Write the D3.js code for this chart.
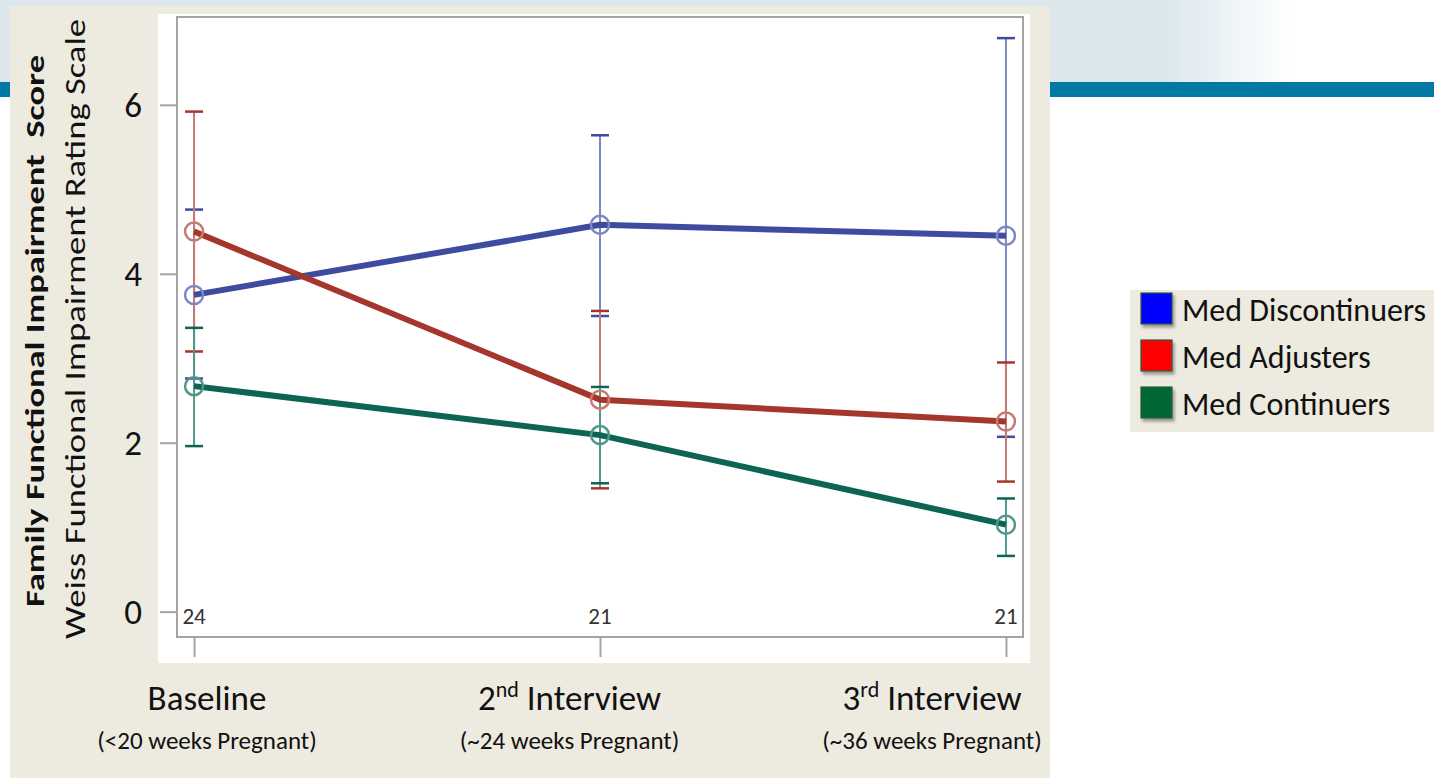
<!DOCTYPE html>
<html lang="en">
<head>
  <meta charset="UTF-8"/>
  <title>Family Functional Impairment Score</title>
  <script src="https://d3js.org/d3.v7.min.js"></script>
  <style>
    body { margin:0; background:#fff; font-family:Carlito,Calibri,Lato,"Open Sans",sans-serif; }
    svg { display:block; }
    .pre { white-space:pre; }
  </style>
</head>
<body>
  <svg id="chart" width="1434" height="780"></svg>

  <script>
    // data
    const timepoints = ['Baseline','2nd Interview','3rd Interview'];
    const tpMain     = [['Baseline',''],['2','nd'],['3','rd']];
    const tpSub      = ['(<20 weeks Pregnant)','(~24 weeks Pregnant)','(~36 weeks Pregnant)'];
    const counts     = ['24','21','21'];
    const yTicks     = [0,2,4,6];

    const groups     = ['Med Discontinuers','Med Adjusters','Med Continuers'];
    const meanDisc   = [3.75, 4.58, 4.45];
    const lowDisc    = [2.76, 3.50, 2.07];
    const highDisc   = [4.76, 5.64, 6.79];
    const meanAdj    = [4.50, 2.51, 2.25];
    const lowAdj     = [3.08, 1.46, 1.54];
    const highAdj    = [5.92, 3.56, 2.95];
    const meanCont   = [2.67, 2.09, 1.03];
    const lowCont    = [1.96, 1.52, 0.66];
    const highCont   = [3.36, 2.66, 1.34];

    const lineCol   = ['#3d4c9e','#a5362c','#0e6453'];
    const barCol    = ['#7d88c2','#c57a72','#4f978a'];
    const swatchCol = ['#0000ff','#ff0000','#006633'];

    const series = groups.map((g,i)=>({
      name:g,
      mean:[meanDisc,meanAdj,meanCont][i],
      low:[lowDisc,lowAdj,lowCont][i],
      high:[highDisc,highAdj,highCont][i],
      line:lineCol[i], bar:barCol[i], swatch:swatchCol[i]
    }));

    const svg = d3.select('#chart');
    const defs = svg.append('defs');

    // slide header: pale blue band fading out, teal rule
    const grad = defs.append('linearGradient').attr('id','hdr')
      .attr('gradientUnits','userSpaceOnUse')
      .attr('x1',1165).attr('y1',0).attr('x2',1290).attr('y2',0);
    grad.append('stop').attr('offset',0).attr('stop-color','#dbe7ed');
    grad.append('stop').attr('offset',1).attr('stop-color','#ffffff');
    svg.append('rect').attr('x',0).attr('y',0).attr('width',1434).attr('height',82).attr('fill','url(#hdr)');
    svg.append('rect').attr('x',0).attr('y',82).attr('width',1434).attr('height',15).attr('fill','#007aa3');

    const shadow = defs.append('filter').attr('id','sh').attr('x','-30%').attr('y','-30%').attr('width','170%').attr('height','170%');
    shadow.append('feDropShadow').attr('dx',2).attr('dy',3).attr('stdDeviation',1.5).attr('flood-color','#000').attr('flood-opacity',0.35);

    // chart panel
    svg.append('rect').attr('x',10).attr('y',6).attr('width',1040).attr('height',772).attr('fill','#edeae0');
    svg.append('rect').attr('x',158).attr('y',14).attr('width',872).attr('height',649).attr('fill','#fff');

    const frame = {left:177, right:1023, top:17, bottom:637};

    const x = d3.scalePoint().domain(timepoints)
      .range([frame.left,frame.right]).padding(0.042);
    const y = d3.scaleLinear().domain([-0.3,7.04]).range([frame.bottom,frame.top]);
    const xLab = d3.scalePoint().domain(timepoints).range([207,932]);

    // frame
    svg.append('rect').attr('x',frame.left).attr('y',frame.top)
      .attr('width',frame.right-frame.left).attr('height',frame.bottom-frame.top)
      .attr('fill','none').attr('stroke','#a4a4a4').attr('stroke-width',2);

    // axes (tick marks only, labels set separately)
    const yAxis = svg.append('g').attr('transform',`translate(${frame.left},0)`)
      .call(d3.axisLeft(y).tickValues(yTicks).tickSize(17).tickFormat(''));
    yAxis.select('.domain').remove();
    yAxis.selectAll('line').attr('stroke','#a4a4a4').attr('stroke-width',2);
    svg.append('g').selectAll('text').data(yTicks).join('text')
      .attr('x',133).attr('y',d=>y(d)).attr('dy','0.36em')
      .attr('text-anchor','middle').attr('font-size',35).attr('fill','#111')
      .text(d=>d);

    const xAxis = svg.append('g').attr('transform',`translate(0,${frame.bottom})`)
      .call(d3.axisBottom(x).tickSize(20).tickFormat(''));
    xAxis.select('.domain').remove();
    xAxis.selectAll('line').attr('stroke','#a4a4a4').attr('stroke-width',2);

    // counts inside the frame
    svg.append('g').selectAll('text').data(timepoints).join('text')
      .attr('x',d=>x(d)).attr('y',624)
      .attr('text-anchor','middle').attr('font-size',23).attr('fill','#333')
      .text((d,i)=>counts[i]);

    // x category labels
    const xl = svg.append('g').selectAll('text').data(timepoints).join('text')
      .attr('x',d=>xLab(d)).attr('y',710)
      .attr('text-anchor','middle').attr('font-size',35).attr('fill','#111');
    xl.each(function(d,i){
      const t = d3.select(this);
      const [a,sup] = tpMain[i];
      t.append('tspan').text(a);
      if(sup){
        t.append('tspan').attr('font-size',22).attr('dy',-13).text(sup);
        t.append('tspan').attr('dy',13).text(' Interview');
      }
    });
    svg.append('g').selectAll('text').data(timepoints).join('text')
      .attr('x',d=>xLab(d)).attr('y',749)
      .attr('text-anchor','middle').attr('font-size',25).attr('fill','#111')
      .text((d,i)=>tpSub[i]);

    // y titles
    svg.append('text').attr('class','pre')
      .attr('transform','translate(44,331) rotate(-90)')
      .attr('text-anchor','middle').attr('font-size',27).attr('font-weight','bold').attr('fill','#111')
      .attr('textLength',552).attr('lengthAdjust','spacingAndGlyphs')
      .text('Family Functional Impairment  Score');
    svg.append('text')
      .attr('transform','translate(85,329) rotate(-90)')
      .attr('text-anchor','middle').attr('font-size',28).attr('fill','#111')
      .attr('textLength',620).attr('lengthAdjust','spacingAndGlyphs')
      .text('Weiss Functional Impairment Rating Scale');

    // error bars
    const cap = 9;
    series.forEach(s=>{
      const g = svg.append('g');
      timepoints.forEach((t,i)=>{
        const cx = x(t);
        g.append('line').attr('x1',cx).attr('x2',cx)
          .attr('y1',y(s.low[i])).attr('y2',y(s.high[i]))
          .attr('stroke',s.bar).attr('stroke-width',2);
        [s.low[i],s.high[i]].forEach(v=>{
          g.append('line').attr('x1',cx-cap).attr('x2',cx+cap)
            .attr('y1',y(v)).attr('y2',y(v))
            .attr('stroke',s.line).attr('stroke-width',2.5);
        });
      });
    });

    // mean lines with hollow markers
    const line = d3.line().x((d,i)=>x(timepoints[i])).y(d=>y(d));
    series.forEach(s=>{
      svg.append('path').datum(s.mean).attr('d',line)
        .attr('fill','none').attr('stroke',s.line).attr('stroke-width',6)
        .attr('stroke-linejoin','round');
      svg.append('g').selectAll('circle').data(s.mean).join('circle')
        .attr('cx',(d,i)=>x(timepoints[i])).attr('cy',d=>y(d)).attr('r',9)
        .attr('fill','none').attr('stroke',s.bar).attr('stroke-width',2.5);
    });

    // legend
    const lg = svg.append('g');
    lg.append('rect').attr('x',1130).attr('y',290).attr('width',304).attr('height',142).attr('fill','#edeae0');
    const item = lg.selectAll('g').data(series).join('g')
      .attr('transform',(d,i)=>`translate(1141,${293+i*47})`);
    item.append('rect').attr('width',31).attr('height',31)
      .attr('fill',d=>d.swatch).attr('stroke','#2e5b3a').attr('stroke-width',1.2)
      .attr('filter','url(#sh)');
    item.append('text').attr('x',41).attr('y',16).attr('dy','0.36em')
      .attr('font-size',32).attr('fill','#111')
      .text(d=>d.name);
  </script>
</body>
</html>
